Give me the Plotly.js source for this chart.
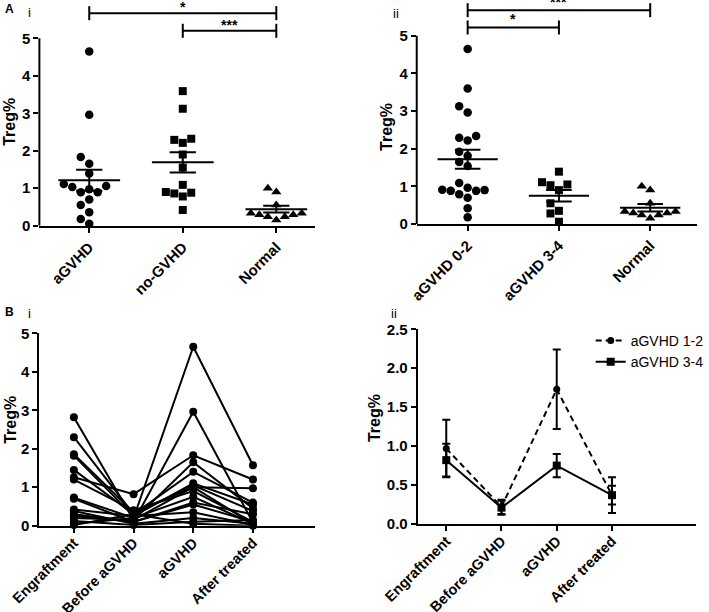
<!DOCTYPE html>
<html><head><meta charset="utf-8">
<script src="https://cdn.plot.ly/plotly-3.0.1.min.js"></script>
<style>html,body{margin:0;padding:0;background:#fff}#g{width:709px;height:612px}</style>
</head><body><div id="g"></div>
<script>
// ---------- DATA ----------
const catA1 = ['aGVHD', 'no-GVHD', 'Normal'];
const aGVHD_A1 = [4.65, 2.96, 1.83, 1.65, 1.39, 1.11, 1.03, 0.89, 0.89, 0.97, 1.06, 0.70, 0.55, 0.36, 0.18, 0.05];
const noGVHD_A1 = [3.59, 3.12, 2.29, 2.21, 2.32, 1.90, 1.55, 1.09, 0.90, 0.86, 0.78, 0.88, 0.42];
const normalVals = [1.00, 0.90, 0.55, 0.33, 0.29, 0.24, 0.15, 0.24, 0.29, 0.33];
const meanA1 = [1.21, 1.69, 0.44];
const semA1 = [0.28, 0.27, 0.09];
const sigA1From = [0, 1], sigA1To = [2, 2], sigA1Label = ['*', '***'];

const catA2 = ['aGVHD 0-2', 'aGVHD 3-4', 'Normal'];
const g02_A2 = [4.65, 3.60, 3.13, 2.96, 2.34, 2.22, 2.29, 1.92, 1.81, 1.65, 1.54, 1.09, 0.90, 0.88, 0.96, 0.79, 0.88, 0.91, 0.70, 0.42, 0.18];
const g34_A2 = [1.39, 1.11, 1.03, 1.05, 0.90, 0.55, 0.35, 0.28, 0.06];
const meanA2 = [1.72, 0.75, 0.43];
const semA2 = [0.25, 0.15, 0.10];
const sigA2From = [0, 0], sigA2To = [2, 1], sigA2Label = ['***', '*'];

const timepoints = ['Engraftment', 'Before aGVHD', 'aGVHD', 'After treated'];
const engraftment = [0.05, 0.30, 1.26, 2.82, 2.30, 1.86, 1.82, 1.45, 1.20, 0.73, 0.70, 0.42, 0.38, 0.20, 0.12, 0.02, 0.25];
const beforeAGVHD = [0.20, 0.10, 0.82, 0.15, 0.30, 0.35, 0.25, 0.30, 0.40, 0.20, 0.10, 0.25, 0.05, 0.15, 0.02, 0.30, 0.10];
const atAGVHD     = [4.65, 2.96, 1.83, 1.65, 1.40, 1.00, 1.10, 1.05, 0.90, 0.75, 0.55, 0.35, 0.20, 1.00, 0.10, 0.05, 0.60];
const afterTreated= [1.57, 0.08, 1.20, 0.45, 0.60, 0.97, 0.55, 0.38, 0.10, 0.05, 0.10, 0.02, 0.05, 0.05, 0.15, 0.00, 0.30];

const seriesB2 = ['aGVHD 1-2', 'aGVHD 3-4'];
const mean12 = [0.97, 0.22, 1.73, 0.37];
const sem12  = [0.37, 0.09, 0.51, 0.12];
const mean34 = [0.82, 0.21, 0.75, 0.37];
const sem34  = [0.21, 0.09, 0.15, 0.23];

// ---------- LAYOUT HELPERS ----------
const W = 709, H = 612;
const FONT = 'Liberation Sans, Arial, Helvetica, sans-serif';
const px = v => v / W, py = v => 1 - v / H;

const dom = {
  a1: {x: [px(40), px(320)], xr: [-0.533, 2.414], y: [py(225.7), py(0.8)], yr: [0, 6]},
  a2: {x: [px(423.3), px(708)], xr: [-0.558, 2.513], y: [py(224), 1], yr: [0, 5.95]},
  b1: {x: [px(40), px(320)], xr: [-0.578, 4.04], y: [py(525.7), py(333.3)], yr: [0, 5]},
  b2: {x: [px(424.3), px(706.7)], xr: [-0.517, 4.517], y: [py(524), py(329.3)], yr: [0, 2.5]}
};

function pxPer(d) {
  return {
    x: (d.x[1] - d.x[0]) * W / (d.xr[1] - d.xr[0]),
    y: (d.y[1] - d.y[0]) * H / (d.yr[1] - d.yr[0])
  };
}

// simple beeswarm: returns x offsets (in axis units)
function swarm(vals, d, diam) {
  const s = pxPer(d);
  const placed = [];
  const offs = new Array(vals.length).fill(0);
  const order = vals.map((v, i) => i).sort((a, b) => vals[a] - vals[b]);
  for (const i of order) {
    const y = vals[i] * s.y;
    for (let k = 0; k < 30; k++) {
      const slot = k === 0 ? 0 : (k % 2 ? -Math.ceil(k / 2) : Math.ceil(k / 2));
      const x = slot * diam;
      if (placed.every(p => Math.hypot(p.x - x, p.y - y) >= diam * 0.97)) {
        placed.push({x, y});
        offs[i] = x / s.x;
        break;
      }
    }
  }
  return offs;
}

const traces = [];
const shapes = [];
const annotations = [];

function dotGroup(vals, idx, sym, size, xa, ya, d) {
  const offs = swarm(vals, d, 8.6);
  traces.push({
    type: 'scatter', mode: 'markers', xaxis: xa, yaxis: ya, showlegend: false,
    x: vals.map((v, i) => idx + offs[i]), y: vals, cliponaxis: false,
    marker: {symbol: sym, size: size, color: '#000', line: {width: 0}}
  });
}
function meanSem(means, sems, xa, ya) {
  means.forEach((m, i) => {
    const lineStyle = {color: '#000', width: 2};
    traces.push({type: 'scatter', mode: 'lines', xaxis: xa, yaxis: ya, showlegend: false,
      x: [i - 0.33, i + 0.33], y: [m, m], line: lineStyle, hoverinfo: 'skip'});
    traces.push({type: 'scatter', mode: 'lines', xaxis: xa, yaxis: ya, showlegend: false,
      x: [i - 0.14, i + 0.14, null, i - 0.14, i + 0.14, null, i, i],
      y: [m + sems[i], m + sems[i], null, m - sems[i], m - sems[i], null, m - sems[i], m + sems[i]],
      line: lineStyle, hoverinfo: 'skip'});
  });
}
function sigBars(from, to, labels, levels, xa, ya, shift) {
  from.forEach((f, i) => {
    traces.push({type: 'scatter', mode: 'lines+markers', xaxis: xa, yaxis: ya, showlegend: false,
      x: [f, to[i]], y: [levels[i], levels[i]], cliponaxis: false,
      line: {color: '#000', width: 2},
      marker: {symbol: 'line-ns-open', size: 10, color: '#000', line: {width: 2, color: '#000'}},
      hoverinfo: 'skip'});
    annotations.push({xref: xa, yref: ya, x: (f + to[i]) / 2, y: levels[i], text: labels[i],
      showarrow: false, yanchor: 'bottom', yshift: shift,
      font: {family: FONT, size: 14, weight: 'bold', color: '#000'}});
  });
}
function yLine(xa, ya, top) {
  shapes.push({type: 'line', xref: xa + ' domain', yref: ya, x0: 0, x1: 0, y0: 0, y1: top,
    line: {color: '#000', width: 2}});
}
function yTitle(xPix, yPix) {
  annotations.push({xref: 'paper', yref: 'paper', x: px(xPix), y: py(yPix), text: 'Treg%',
    textangle: -90, showarrow: false, xanchor: 'center', yanchor: 'middle',
    font: {family: FONT, size: 16, weight: 'bold', color: '#000'}});
}
function label(text, xPix, yPix, bold, size) {
  annotations.push({xref: 'paper', yref: 'paper', x: px(xPix), y: py(yPix), text: text,
    showarrow: false, xanchor: 'left', yanchor: 'middle',
    font: {family: FONT, size: size, weight: bold ? 'bold' : 'normal', color: '#000'}});
}

// ---------- PANEL A i ----------
dotGroup(aGVHD_A1, 0, 'circle', 8.5, 'x', 'y', dom.a1);
dotGroup(noGVHD_A1, 1, 'square', 8, 'x', 'y', dom.a1);
dotGroup(normalVals, 2, 'triangle-up', 9, 'x', 'y', dom.a1);
meanSem(meanA1, semA1, 'x', 'y');
sigBars(sigA1From, sigA1To, sigA1Label, [5.67, 5.2], 'x', 'y', -4);
yLine('x', 'y', 5);
yTitle(10, 122);

// ---------- PANEL A ii ----------
dotGroup(g02_A2, 0, 'circle', 8.5, 'x2', 'y2', dom.a2);
dotGroup(g34_A2, 1, 'square', 8, 'x2', 'y2', dom.a2);
dotGroup(normalVals, 2, 'triangle-up', 9, 'x2', 'y2', dom.a2);
meanSem(meanA2, semA2, 'x2', 'y2');
sigBars(sigA2From, sigA2To, sigA2Label, [5.68, 5.22], 'x2', 'y2', -2);
yLine('x2', 'y2', 5);
yTitle(392, 127);

// ---------- PANEL B i ----------
engraftment.forEach((e, i) => {
  traces.push({type: 'scatter', mode: 'lines+markers', xaxis: 'x3', yaxis: 'y3', showlegend: false,
    x: [0, 1, 2, 3], y: [e, beforeAGVHD[i], atAGVHD[i], afterTreated[i]], cliponaxis: false,
    line: {color: '#000', width: 2}, marker: {symbol: 'circle', size: 8, color: '#000'}});
});
yTitle(10, 420);

// ---------- PANEL B ii ----------
traces.push({type: 'scatter', mode: 'lines+markers', xaxis: 'x4', yaxis: 'y4', name: seriesB2[0],
  x: [0, 1, 2, 3], y: mean12, cliponaxis: false,
  line: {color: '#000', width: 2, dash: '6px,4px'},
  marker: {symbol: 'circle', size: 7, color: '#000'},
  error_y: {type: 'data', array: sem12, visible: true, color: '#000', thickness: 2, width: 4}});
traces.push({type: 'scatter', mode: 'lines+markers', xaxis: 'x4', yaxis: 'y4', name: seriesB2[1],
  x: [0, 1, 2, 3], y: mean34, cliponaxis: false,
  line: {color: '#000', width: 2},
  marker: {symbol: 'square', size: 8, color: '#000'},
  error_y: {type: 'data', array: sem34, visible: true, color: '#000', thickness: 2, width: 4}});
yTitle(380, 418);

// panel labels
label('A', 3, 9, true, 12);
label('i', 26, 12, false, 13);
label('ii', 397, 13, false, 13);
label('B', 3, 312, true, 12);
label('i', 26, 313, false, 13);
label('ii', 395, 313, false, 13);

// ---------- AXES ----------
const tickFontA = {family: FONT, size: 15, weight: 'bold', color: '#000'};
const tickFontB = {family: FONT, size: 14.5, weight: 'bold', color: '#000'};
function xAxis(d, cats, anchor, font, standoff) {
  return {domain: d.x, range: d.xr, anchor: anchor, tickmode: 'array',
    tickvals: cats.map((c, i) => i), ticktext: cats, tickangle: -45,
    showline: true, linecolor: '#000', linewidth: 2, ticks: 'outside', ticklen: 5, tickwidth: 2,
    ticklabelstandoff: standoff,
    tickcolor: '#000', showgrid: false, zeroline: false, tickfont: font, automargin: false, fixedrange: true};
}
function yAxis(d, anchor, tv, tt, showline) {
  return {domain: d.y, range: d.yr, anchor: anchor, tickmode: 'array', tickvals: tv, ticktext: tt,
    showline: showline, linecolor: '#000', linewidth: 2, ticks: 'outside', ticklen: 5, tickwidth: 2,
    tickcolor: '#000', showgrid: false, zeroline: false, tickfont: tickFontA, automargin: false, fixedrange: true};
}
const t5 = [0, 1, 2, 3, 4, 5];
const t25 = [0, 0.5, 1, 1.5, 2, 2.5];

const layout = {
  width: W, height: H, margin: {l: 0, r: 0, t: 0, b: 0},
  paper_bgcolor: '#fff', plot_bgcolor: 'rgba(0,0,0,0)',
  font: {family: FONT, color: '#000'},
  showlegend: true,
  legend: {x: px(600), y: py(325), xanchor: 'left', yanchor: 'top', bgcolor: 'rgba(0,0,0,0)',
    font: {family: FONT, size: 14, color: '#000'}, tracegroupgap: 0, itemwidth: 30},
  xaxis: xAxis(dom.a1, catA1, 'y', tickFontA, 0),
  yaxis: yAxis(dom.a1, 'x', t5, t5.map(String), false),
  xaxis2: xAxis(dom.a2, catA2, 'y2', tickFontA, 0),
  yaxis2: yAxis(dom.a2, 'x2', t5, t5.map(String), false),
  xaxis3: xAxis(dom.b1, timepoints, 'y3', tickFontB, -4),
  yaxis3: yAxis(dom.b1, 'x3', t5, t5.map(String), true),
  xaxis4: xAxis(dom.b2, timepoints, 'y4', tickFontB, -4),
  yaxis4: yAxis(dom.b2, 'x4', t25, t25.map(v => v.toFixed(1)), true),
  shapes: shapes,
  annotations: annotations
};

Plotly.newPlot('g', traces, layout, {staticPlot: true, displayModeBar: false});
</script>
</body></html>
